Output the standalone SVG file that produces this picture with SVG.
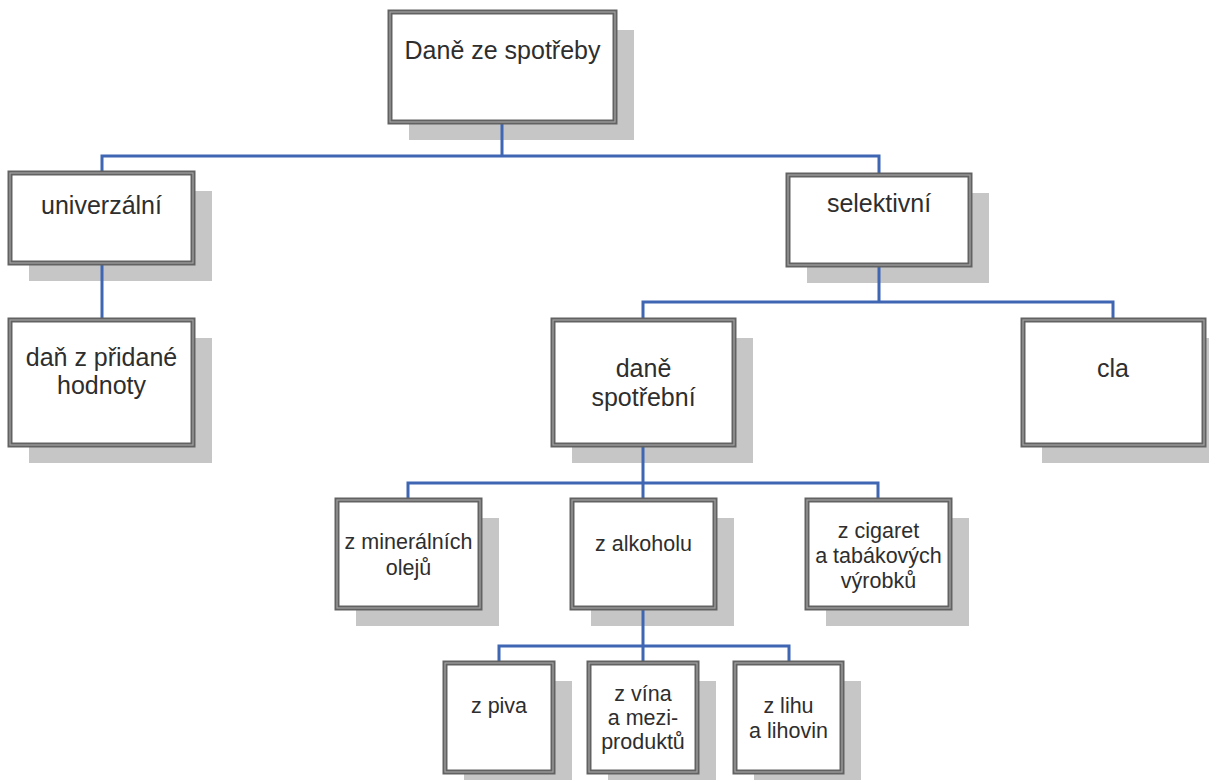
<svg xmlns="http://www.w3.org/2000/svg" width="1209" height="780" viewBox="0 0 1209 780">
  <style>
    .shadow { fill: #c6c6c6; }
    .box { fill: #ffffff; stroke: #626262; stroke-width: 5; }
    .inner { fill: none; stroke: #a3a3a3; stroke-width: 1.2; }
    .wire { fill: none; stroke: #3f66b3; stroke-width: 3; }
    text { font-family: "Liberation Sans", Arial, sans-serif; fill: #2e2e2e; text-anchor: middle; }
    .big { font-size: 25px; }
    .small { font-size: 21.5px; }
  </style>
  <rect width="1209" height="780" fill="#ffffff"/>

  <!-- drop shadows -->
  <g id="shadows">
    <rect class="shadow" x="409" y="30" width="225" height="110"/>
    <rect class="shadow" x="29" y="191" width="183" height="90"/>
    <rect class="shadow" x="807" y="193" width="182" height="90"/>
    <rect class="shadow" x="29" y="338" width="183" height="125"/>
    <rect class="shadow" x="572" y="338" width="181" height="125"/>
    <rect class="shadow" x="1042" y="338" width="181" height="125"/>
    <rect class="shadow" x="356" y="518" width="143" height="108"/>
    <rect class="shadow" x="591" y="518" width="143" height="108"/>
    <rect class="shadow" x="826" y="518" width="143" height="108"/>
    <rect class="shadow" x="464" y="681" width="108" height="109"/>
    <rect class="shadow" x="608" y="681" width="108" height="109"/>
    <rect class="shadow" x="754" y="681" width="107" height="109"/>
  </g>

  <!-- tree connectors -->
  <g id="connectors">
    <path class="wire" d="M502,122 V156 M102,173 V156 H879 V175"/>
    <path class="wire" d="M102,263 V320"/>
    <path class="wire" d="M879,265 V302 M643,320 V302 H1113 V320"/>
    <path class="wire" d="M643,445 V483 M408,500 V483 H878 V500 M643,483 V500"/>
    <path class="wire" d="M643,608 V646 M499,663 V646 H789 V663 M643,646 V663"/>
  </g>

  <g id="n-dane-ze-spotreby">
    <rect class="box" x="390" y="12" width="225" height="110"/>
    <rect class="inner" x="390" y="12" width="225" height="110"/>
    <text class="big" x="502.5" y="59">Daně ze spotřeby</text>
  </g>

  <g id="n-univerzalni">
    <rect class="box" x="10" y="173" width="183" height="90"/>
    <rect class="inner" x="10" y="173" width="183" height="90"/>
    <text class="big" x="101.5" y="214">univerzální</text>
  </g>

  <g id="n-selektivni">
    <rect class="box" x="788" y="175" width="182" height="90"/>
    <rect class="inner" x="788" y="175" width="182" height="90"/>
    <text class="big" x="879" y="212">selektivní</text>
  </g>

  <g id="n-dph">
    <rect class="box" x="10" y="320" width="183" height="125"/>
    <rect class="inner" x="10" y="320" width="183" height="125"/>
    <text class="big" x="101.5" y="366">daň z přidané</text>
    <text class="big" x="101.5" y="394">hodnoty</text>
  </g>

  <g id="n-dane-spotrebni">
    <rect class="box" x="553" y="320" width="181" height="125"/>
    <rect class="inner" x="553" y="320" width="181" height="125"/>
    <text class="big" x="643.5" y="377">daně</text>
    <text class="big" x="643.5" y="406">spotřební</text>
  </g>

  <g id="n-cla">
    <rect class="box" x="1023" y="320" width="181" height="125"/>
    <rect class="inner" x="1023" y="320" width="181" height="125"/>
    <text class="big" x="1113" y="377">cla</text>
  </g>

  <g id="n-mineralni-oleje">
    <rect class="box" x="337" y="500" width="143" height="108"/>
    <rect class="inner" x="337" y="500" width="143" height="108"/>
    <text class="small" x="408.5" y="549">z minerálních</text>
    <text class="small" x="408.5" y="575">olejů</text>
  </g>

  <g id="n-alkohol">
    <rect class="box" x="572" y="500" width="143" height="108"/>
    <rect class="inner" x="572" y="500" width="143" height="108"/>
    <text class="small" x="643.5" y="551">z alkoholu</text>
  </g>

  <g id="n-cigarety">
    <rect class="box" x="807" y="500" width="143" height="108"/>
    <rect class="inner" x="807" y="500" width="143" height="108"/>
    <text class="small" x="878.5" y="538">z cigaret</text>
    <text class="small" x="878.5" y="563">a tabákových</text>
    <text class="small" x="878.5" y="588">výrobků</text>
  </g>

  <g id="n-pivo">
    <rect class="box" x="445" y="663" width="108" height="109"/>
    <rect class="inner" x="445" y="663" width="108" height="109"/>
    <text class="small" x="499" y="713">z piva</text>
  </g>

  <g id="n-vino">
    <rect class="box" x="589" y="663" width="108" height="109"/>
    <rect class="inner" x="589" y="663" width="108" height="109"/>
    <text class="small" x="643" y="701">z vína</text>
    <text class="small" x="643" y="725">a mezi-</text>
    <text class="small" x="643" y="749">produktů</text>
  </g>

  <g id="n-lih">
    <rect class="box" x="735" y="663" width="107" height="109"/>
    <rect class="inner" x="735" y="663" width="107" height="109"/>
    <text class="small" x="788.5" y="713">z lihu</text>
    <text class="small" x="788.5" y="738">a lihovin</text>
  </g>
</svg>
